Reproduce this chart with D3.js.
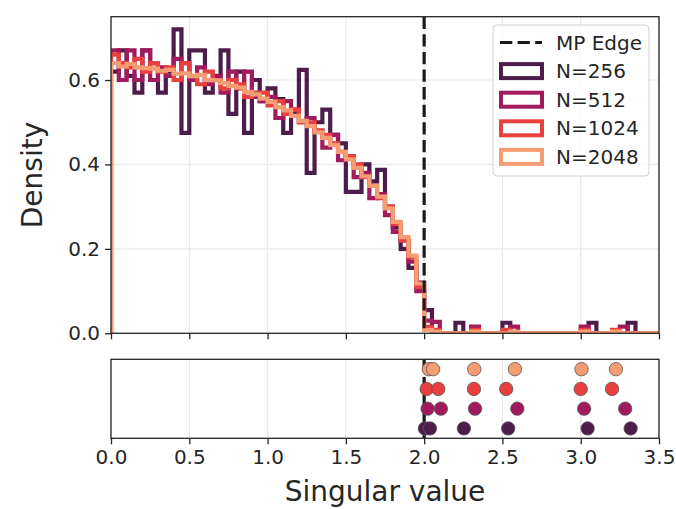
<!DOCTYPE html>
<html>
<head>
<meta charset="utf-8">
<script src="https://cdn.jsdelivr.net/npm/d3@7"></script>
<style>
  body { margin: 0; background: #fff; }
  svg { font-family: "DejaVu Sans", sans-serif; }
</style>
</head>
<body>
<svg id="chart" width="676" height="509"></svg>
<script>
// matrix sizes and their colours (rocket palette)
const sizes = [256, 512, 1024, 2048];
const colors = ["#4c1d4b", "#a11a5b", "#e83f3f", "#f69c73"];

// histogram bins start at 0, width 0.05, 70 bins
const binWidth = 0.05;

const dens256 = [
  0.62, 0.67, 0.61, 0.57, 0.67, 0.64, 0.57, 0.62, 0.72, 0.475,
  0.67, 0.67, 0.57, 0.60, 0.67, 0.52, 0.62, 0.475, 0.60, 0.55,
  0.58, 0.555, 0.475, 0.52, 0.624, 0.38, 0.50, 0.53, 0.47, 0.45,
  0.335, 0.335, 0.40, 0.36, 0.387, 0.30, 0.25, 0.20, 0.155, 0.12,
  0.055, 0, 0, 0, 0.025, 0, 0, 0, 0, 0,
  0.025, 0, 0, 0, 0, 0, 0, 0, 0, 0,
  0, 0.025, 0, 0, 0, 0, 0.025, 0, 0, 0
];
const dens512 = [
  0.67, 0.60, 0.67, 0.60, 0.67, 0.60, 0.63, 0.61, 0.65, 0.64,
  0.60, 0.63, 0.59, 0.61, 0.57, 0.62, 0.58, 0.62, 0.56, 0.55,
  0.56, 0.51, 0.55, 0.53, 0.50, 0.51, 0.48, 0.44, 0.47, 0.41,
  0.42, 0.37, 0.38, 0.32, 0.33, 0.28, 0.24, 0.22, 0.17, 0.10,
  0.03, 0.027, 0, 0, 0, 0, 0.016, 0, 0, 0,
  0, 0.016, 0, 0, 0, 0, 0, 0, 0, 0,
  0.016, 0, 0, 0, 0, 0.016, 0, 0, 0, 0
];
const dens1024 = [
  0.66, 0.64, 0.63, 0.65, 0.62, 0.64, 0.62, 0.63, 0.60, 0.64,
  0.61, 0.59, 0.62, 0.60, 0.58, 0.60, 0.59, 0.56, 0.57, 0.57,
  0.54, 0.55, 0.52, 0.53, 0.50, 0.50, 0.48, 0.47, 0.45, 0.43,
  0.42, 0.40, 0.37, 0.35, 0.32, 0.30, 0.26, 0.22, 0.18, 0.11,
  0.015, 0.008, 0, 0, 0, 0, 0.008, 0, 0, 0,
  0.008, 0, 0, 0, 0, 0, 0, 0, 0, 0,
  0.008, 0, 0, 0, 0.008, 0, 0, 0, 0, 0
];
const dens2048 = [
  0.640, 0.632, 0.638, 0.630, 0.628, 0.627, 0.622, 0.624, 0.615, 0.616,
  0.609, 0.612, 0.600, 0.599, 0.593, 0.586, 0.582, 0.572, 0.566, 0.556,
  0.548, 0.536, 0.528, 0.515, 0.503, 0.491, 0.476, 0.463, 0.446, 0.430,
  0.412, 0.392, 0.372, 0.349, 0.324, 0.296, 0.264, 0.228, 0.184, 0.118,
  0.008, 0.004, 0, 0, 0, 0, 0.004, 0, 0, 0,
  0, 0.004, 0, 0, 0, 0, 0, 0, 0, 0,
  0.004, 0, 0, 0, 0.004, 0, 0, 0, 0, 0
];

// singular values beyond the edge (lower panel)
const out256 = [2.005, 2.037, 2.254, 2.537, 3.044, 3.319];
const out512 = [2.022, 2.107, 2.325, 2.595, 3.022, 3.284];
const out1024 = [2.016, 2.090, 2.318, 2.524, 3.000, 3.200];
const out2048 = [2.030, 2.057, 2.320, 2.580, 3.005, 3.225];

const xTicks = [0, 0.5, 1.0, 1.5, 2.0, 2.5, 3.0, 3.5];
const yTicks = [0, 0.2, 0.4, 0.6];
const mpEdge = 2.0;

const densities = [dens256, dens512, dens1024, dens2048];
const outliers = [out256, out512, out1024, out2048];

const svg = d3.select("#chart");
const spine = "#262626";

const x = d3.scaleLinear().domain([0, 3.5]).range([111, 659]);
const y = d3.scaleLinear().domain([0, 0.75]).range([333.3, 16.7]);
const y2 = d3.scaleLinear().domain([-0.5, 3.5]).range([438.3, 359.3]);

svg.append("clipPath").attr("id", "clipTop")
  .append("rect").attr("x", x(0)).attr("y", y(0.75))
  .attr("width", x(3.5) - x(0)).attr("height", y(0) - y(0.75));

// ---- top panel ----
const topPanel = svg.append("g");

topPanel.append("g").selectAll("line").data(xTicks).join("line")
  .attr("x1", d => x(d)).attr("x2", d => x(d))
  .attr("y1", y(0)).attr("y2", y(0.75))
  .attr("stroke", "#e8e8e8").attr("stroke-width", 1.2);
topPanel.append("g").selectAll("line").data(yTicks).join("line")
  .attr("x1", x(0)).attr("x2", x(3.5))
  .attr("y1", d => y(d)).attr("y2", d => y(d))
  .attr("stroke", "#e8e8e8").attr("stroke-width", 1.2);

const stepLine = d3.line().x(d => x(d[0])).y(d => y(d[1]));

const hist = topPanel.append("g").attr("clip-path", "url(#clipTop)");
densities.forEach((dens, k) => {
  const pts = [[0, 0]];
  dens.forEach((h, i) => {
    pts.push([i * binWidth, h]);
    pts.push([(i + 1) * binWidth, h]);
  });
  pts.push([dens.length * binWidth, 0]);
  hist.append("path")
    .attr("d", stepLine(pts))
    .attr("fill", "none")
    .attr("stroke", colors[k])
    .attr("stroke-width", 4.2)
    .attr("stroke-linejoin", "miter");
});

hist.append("line")
  .attr("x1", x(mpEdge)).attr("x2", x(mpEdge))
  .attr("y1", y(0.75)).attr("y2", y(0))
  .attr("stroke", "#1a1a1a").attr("stroke-width", 3.2)
  .attr("stroke-dasharray", "12.3,5.3");

const yAxis = topPanel.append("g").attr("transform", `translate(${x(0)},0)`)
  .call(d3.axisLeft(y).tickValues(yTicks).tickFormat(d3.format(".1f")).tickSize(6).tickPadding(5));
const xAxisTop = topPanel.append("g").attr("transform", `translate(0,${y(0)})`)
  .call(d3.axisBottom(x).tickValues(xTicks).tickFormat("").tickSize(6));

topPanel.append("rect")
  .attr("x", x(0)).attr("y", y(0.75))
  .attr("width", x(3.5) - x(0)).attr("height", y(0) - y(0.75))
  .attr("fill", "none").attr("stroke", spine).attr("stroke-width", 1.3);

// ---- bottom panel ----
const botPanel = svg.append("g");
botPanel.append("g").selectAll("line").data(xTicks).join("line")
  .attr("x1", d => x(d)).attr("x2", d => x(d))
  .attr("y1", y2(-0.5)).attr("y2", y2(3.5))
  .attr("stroke", "#e8e8e8").attr("stroke-width", 1.2);

botPanel.append("line")
  .attr("x1", x(mpEdge)).attr("x2", x(mpEdge))
  .attr("y1", y2(3.5)).attr("y2", y2(-0.5))
  .attr("stroke", "#1a1a1a").attr("stroke-width", 3.2)
  .attr("stroke-dasharray", "12.3,5.3");

outliers.forEach((vals, k) => {
  botPanel.append("g").selectAll("circle").data(vals).join("circle")
    .attr("cx", d => x(d)).attr("cy", y2(k))
    .attr("r", 6.7)
    .attr("fill", colors[k])
    .attr("stroke", "#555").attr("stroke-width", 0.8);
});

const xAxis = botPanel.append("g").attr("transform", `translate(0,${y2(-0.5)})`)
  .call(d3.axisBottom(x).tickValues(xTicks).tickFormat(d3.format(".1f")).tickSize(6).tickPadding(6));

botPanel.append("rect")
  .attr("x", x(0)).attr("y", y2(3.5))
  .attr("width", x(3.5) - x(0)).attr("height", y2(-0.5) - y2(3.5))
  .attr("fill", "none").attr("stroke", spine).attr("stroke-width", 1.3);

[yAxis, xAxisTop, xAxis].forEach(a => {
  a.select(".domain").remove();
  a.selectAll(".tick line").attr("stroke", spine).attr("stroke-width", 1.3);
  a.selectAll(".tick text").attr("fill", "#262626")
    .style("font-size", "20px").style("font-family", "DejaVu Sans");
});

// axis labels
svg.append("text")
  .attr("transform", `translate(42,${(y(0) + y(0.75)) / 2}) rotate(-90)`)
  .attr("text-anchor", "middle")
  .attr("fill", "#262626")
  .style("font-size", "28px")
  .text("Density");
svg.append("text")
  .attr("x", (x(0) + x(3.5)) / 2).attr("y", 501)
  .attr("text-anchor", "middle")
  .attr("fill", "#262626")
  .style("font-size", "28px")
  .text("Singular value");

// ---- legend ----
const lg = svg.append("g").attr("transform", "translate(493,25)");
lg.append("rect").attr("width", 156).attr("height", 151).attr("rx", 4)
  .attr("fill", "#fff").attr("fill-opacity", 0.8)
  .attr("stroke", "#d0d0d0").attr("stroke-width", 1);
const rowY = i => 17.5 + i * 28.6;
lg.append("line")
  .attr("x1", 7).attr("x2", 49).attr("y1", rowY(0)).attr("y2", rowY(0))
  .attr("stroke", "#1a1a1a").attr("stroke-width", 3.2)
  .attr("stroke-dasharray", "12.3,5.3");
lg.append("text").attr("x", 63).attr("y", rowY(0)).attr("dy", "0.35em")
  .attr("fill", "#262626").style("font-size", "20px").text("MP Edge");
sizes.forEach((n, k) => {
  lg.append("rect")
    .attr("x", 8).attr("y", rowY(k + 1) - 7)
    .attr("width", 41).attr("height", 14)
    .attr("fill", "none").attr("stroke", colors[k]).attr("stroke-width", 4);
  lg.append("text").attr("x", 63).attr("y", rowY(k + 1)).attr("dy", "0.35em")
    .attr("fill", "#262626").style("font-size", "20px").text(`N=${n}`);
});
</script>
</body>
</html>
